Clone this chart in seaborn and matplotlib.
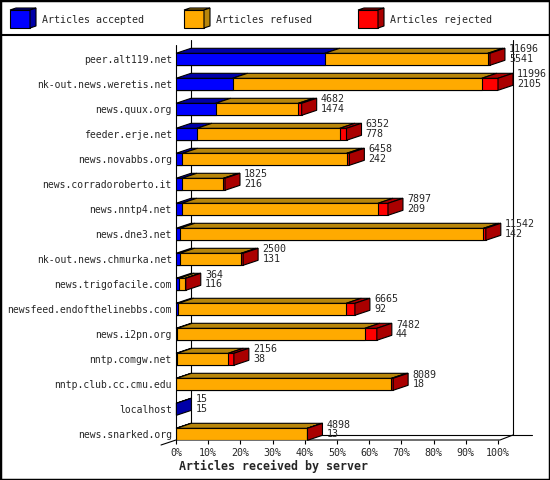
import numpy as np
import pandas as pd
import matplotlib
matplotlib.use('Agg')
import matplotlib.pyplot as plt
import seaborn as sns
from matplotlib.patches import Polygon, Rectangle

# data
servers = ['peer.alt119.net', 'nk-out.news.weretis.net', 'news.quux.org', 'feeder.erje.net',
           'news.novabbs.org', 'news.corradoroberto.it', 'news.nntp4.net', 'news.dne3.net',
           'nk-out.news.chmurka.net', 'news.trigofacile.com', 'newsfeed.endofthelinebbs.com',
           'news.i2pn.org', 'nntp.comgw.net', 'nntp.club.cc.cmu.edu', 'localhost', 'news.snarked.org']
totals = [11696, 11996, 4682, 6352, 6458, 1825, 7897, 11542, 2500, 364, 6665, 7482, 2156, 8089, 15, 4898]
accepted = [5541, 2105, 1474, 778, 242, 216, 209, 142, 131, 116, 92, 44, 38, 18, 15, 13]
refused = [6075, 9284, 3084, 5326, 6117, 1549, 7316, 11313, 2294, 228, 6250, 6991, 1907, 8009, 0, 4877]
rejected = [80, 607, 124, 248, 99, 60, 372, 87, 75, 20, 323, 447, 211, 62, 0, 8]
legend_labels = ['Articles accepted', 'Articles refused', 'Articles rejected']

front = ['#0000FF', '#FFAA00', '#FF0000']
dark = ['#0000A8', '#B8860B', '#AA0000']

W, H = 550, 480
# pixel geometry of the reference
X0, X1 = 176, 498
ROW0, STEP = 59.3, 25.0
px_per_unit = (X1 - X0) / 100.0
DX = 15 / px_per_unit      # depth, data units
DY = 5 / STEP              # depth, rows
BAR_H = 12 / STEP

def xd(px):
    return (px - X0) / px_per_unit

def yd(py):
    return (py - ROW0) / STEP

sns.set_theme(style='white')
plt.rcParams['font.family'] = ['DejaVu Sans Mono', 'DejaVu Sans']

fig = plt.figure(figsize=(W / 100, H / 100), dpi=100)
ax = fig.add_axes([X0 / W, 1 - 440 / H, (X1 - X0) / W, 400 / H])

df = pd.DataFrame({'server': servers, 'total': totals, 'accepted': accepted,
                   'refused': refused, 'rejected': rejected})
scale = 100.0 / df['total'].max()
df['acc_end'] = df['accepted'] * scale
df['ref_end'] = (df['accepted'] + df['refused']) * scale
df['tot_end'] = df['total'] * scale

# back wall and floor lines
lk = dict(color='black', lw=0.8, clip_on=False, zorder=1)
ax.plot([DX, DX], [yd(40), yd(435)], **lk)
ax.plot([xd(513), xd(513)], [yd(40), yd(435)], **lk)
ax.plot([0, 0], [yd(45), yd(440)], **lk)
ax.plot([xd(161), 0, xd(500), xd(513)], [yd(445), yd(440), yd(440), yd(435)], **lk)
ax.plot([DX, xd(532)], [yd(435), yd(435)], **lk)

# front faces: overlaid cumulative bars
for col, c in [('tot_end', front[2]), ('ref_end', front[1]), ('acc_end', front[0])]:
    sns.barplot(data=df, x=col, y='server', color=c, saturation=1, width=BAR_H,
                edgecolor='black', linewidth=0.8, errorbar=None, ax=ax, zorder=3)

# 3d top and side faces
for i, row in df.iterrows():
    top, bot = i - BAR_H / 2, i + BAR_H / 2
    edges = [0, row['acc_end'], row['ref_end'], row['tot_end']]
    last = 0
    for k in range(3):
        x0, x1 = edges[k], edges[k + 1]
        if x1 - x0 <= 0:
            continue
        last = k
        ax.add_patch(Polygon([(x0, top), (x1, top), (x1 + DX, top - DY), (x0 + DX, top - DY)],
                             closed=True, facecolor=dark[k], edgecolor='black', lw=0.8,
                             clip_on=False, zorder=3))
    xe = row['tot_end']
    ax.add_patch(Polygon([(xe, top), (xe, bot), (xe + DX, bot - DY), (xe + DX, top - DY)],
                         closed=True, facecolor=dark[last], edgecolor='black', lw=0.8,
                         clip_on=False, zorder=3))
    ax.text(xe + DX + 1.3, i - 0.2, f"{row['total']}\n{row['accepted']}", ha='left', va='center',
            fontsize=7.2, linespacing=0.95, zorder=4)

ax.set_xlim(0, 100)
ax.set_ylim(yd(440), yd(40))
ax.set_xticks(range(0, 101, 10))
ax.set_xticklabels([f'{v}%' for v in range(0, 101, 10)])
ax.tick_params(axis='x', bottom=True, length=3, width=0.8, pad=3, labelsize=7.2,
               direction='out', color='black')
ax.tick_params(axis='y', left=False, length=0, pad=3, labelsize=7.0)
ax.set_xlabel('')
ax.set_ylabel('')
sns.despine(ax=ax, left=True, bottom=True)
ax.patch.set_alpha(0)

fig.text(179 / W, 1 - 466 / H, 'Articles received by server', ha='left', va='center',
         fontsize=8.4, fontweight='bold')

# legend strip
def fp(px, py):
    return (px / W, 1 - py / H)

for lx, tx, lab, c, d in zip([10, 184, 358], [42, 216, 390], legend_labels, front, dark):
    fig.add_artist(Polygon([fp(lx, 10), fp(lx + 20, 10), fp(lx + 20, 28), fp(lx, 28)], closed=True,
                           facecolor=c, edgecolor='black', lw=0.8, transform=fig.transFigure))
    fig.add_artist(Polygon([fp(lx, 10), fp(lx + 20, 10), fp(lx + 26, 8), fp(lx + 6, 8)], closed=True,
                           facecolor=d, edgecolor='black', lw=0.8, transform=fig.transFigure))
    fig.add_artist(Polygon([fp(lx + 20, 10), fp(lx + 26, 8), fp(lx + 26, 26), fp(lx + 20, 28)],
                           closed=True, facecolor=d, edgecolor='black', lw=0.8,
                           transform=fig.transFigure))
    fig.text(tx / W, 1 - 20 / H, lab, ha='left', va='center', fontsize=7.2)

fig.add_artist(plt.Line2D([0, 1], [1 - 35 / H, 1 - 35 / H], color='black', lw=1.5,
                          transform=fig.transFigure))
fig.add_artist(Rectangle((0, 0), 1, 1, fill=False, edgecolor='black', lw=2.5,
                         transform=fig.transFigure))

fig.savefig('out.png', dpi=100)
